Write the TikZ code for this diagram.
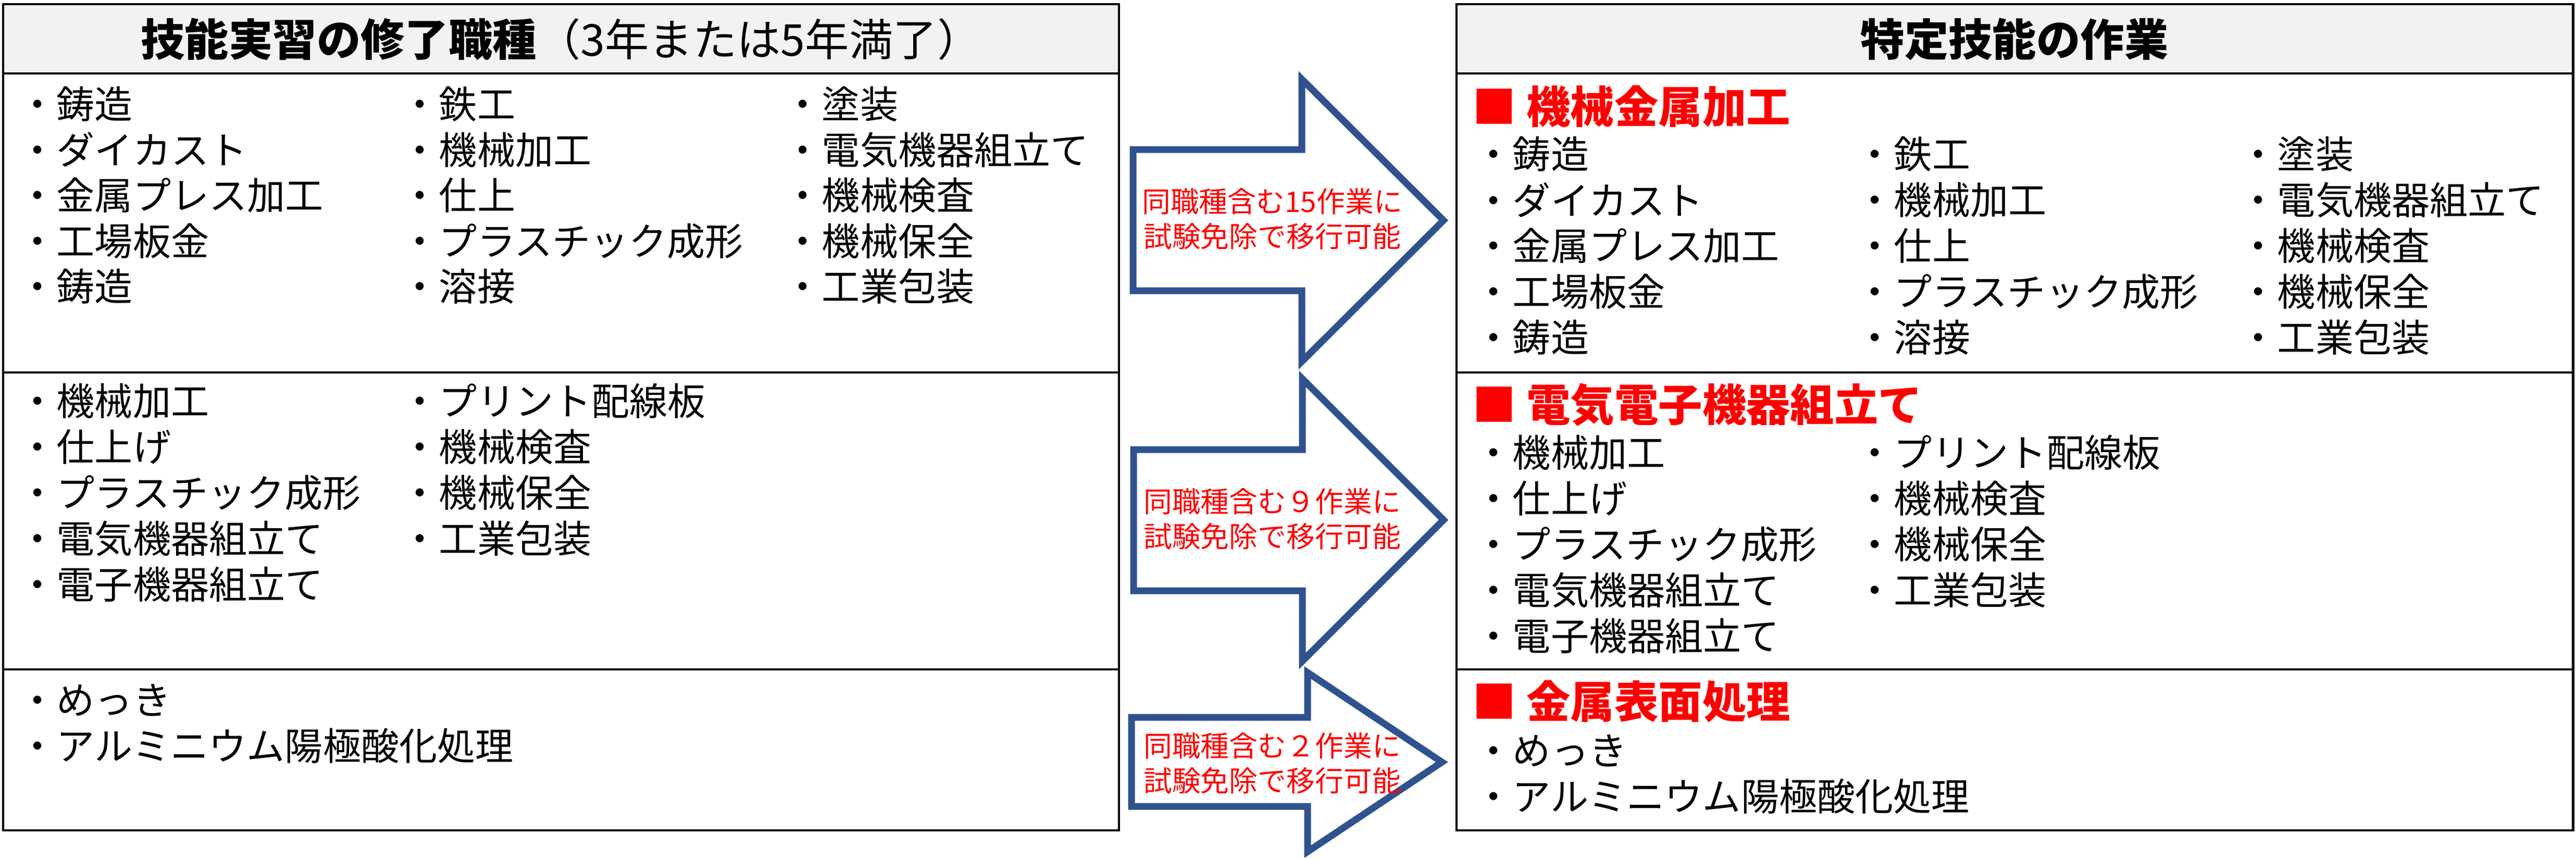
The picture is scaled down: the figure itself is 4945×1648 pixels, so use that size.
\documentclass[tikz,border=0pt]{standalone}
\usepackage{fontspec}
\setmainfont{Noto Sans CJK JP}
\definecolor{headgray}{HTML}{F2F2F2}
\definecolor{arrowblue}{HTML}{2F528F}

\begin{document}
\begin{tikzpicture}[x=0.01cm,y=-0.01cm]
		% Define styles for tables, lists and block arrows
		\tikzset{
			tabline/.style={line width=1.4pt},
			headtext/.style={inner sep=0, font=\fontsize{24}{28}\selectfont},
			item/.style={anchor=west, inner sep=0, font=\fontsize{20.8}{25}\selectfont},
			sectitle/.style={anchor=west, inner sep=0, text=red, font=\fontsize{24}{28}\selectfont\bfseries},
			bigarrow/.style={draw=arrowblue, fill=white, line width=3.7pt, line join=miter},
			arrowtext/.style={text=red, align=center, inner sep=0, font=\fontsize{15.6}{18.9}\selectfont}
		}
		\useasboundingbox (0,0) rectangle (4945,1648);
		
		% Draw the two tables
		\fill[headgray] (6,8) rectangle (2148,141);
		\fill[headgray] (2796,8) rectangle (4939,141);
		\draw[tabline] (6,8) rectangle (2148,1594);
		\draw[tabline] (2796,8) rectangle (4939,1594);
		\foreach \y in {141,715,1285} {
			\draw[tabline] (6,\y) -- (2148,\y);
			\draw[tabline] (2796,\y) -- (4939,\y);
		}
		
		% Table headers
		\node[headtext] (lhead) at (1077,75) {\textbf{技能実習の修了職種}（3年または5年満了）};
		\node[headtext] (rhead) at (3867,75) {\textbf{特定技能の作業}};
		
		% Left table: finished job types
		\foreach \t [count=\i from 0] in {鋳造,ダイカスト,金属プレス加工,工場板金,鋳造}
			\node[item] (la\i) at (35,200+87.5*\i) {・\t};
		\foreach \t [count=\i from 0] in {鉄工,機械加工,仕上,プラスチック成形,溶接}
			\node[item] (lb\i) at (769,200+87.5*\i) {・\t};
		\foreach \t [count=\i from 0] in {塗装,電気機器組立て,機械検査,機械保全,工業包装}
			\node[item] (lc\i) at (1504,200+87.5*\i) {・\t};
		\foreach \t [count=\i from 0] in {機械加工,仕上げ,プラスチック成形,電気機器組立て,電子機器組立て}
			\node[item] (ld\i) at (35,770+88*\i) {・\t};
		\foreach \t [count=\i from 0] in {プリント配線板,機械検査,機械保全,工業包装}
			\node[item] (le\i) at (769,770+88*\i) {・\t};
		\foreach \t [count=\i from 0] in {めっき,アルミニウム陽極酸化処理}
			\node[item] (lf\i) at (35,1344+88*\i) {・\t};
		
		% Right table: specified skill work
		\node[sectitle] (rsec1) at (2826,204) {■ 機械金属加工};
		\foreach \t [count=\i from 0] in {鋳造,ダイカスト,金属プレス加工,工場板金,鋳造}
			\node[item] (ra\i) at (2830,296+88*\i) {・\t};
		\foreach \t [count=\i from 0] in {鉄工,機械加工,仕上,プラスチック成形,溶接}
			\node[item] (rb\i) at (3562,296+88*\i) {・\t};
		\foreach \t [count=\i from 0] in {塗装,電気機器組立て,機械検査,機械保全,工業包装}
			\node[item] (rc\i) at (4298,296+88*\i) {・\t};
		\node[sectitle] (rsec2) at (2826,777) {■ 電気電子機器組立て};
		\foreach \t [count=\i from 0] in {機械加工,仕上げ,プラスチック成形,電気機器組立て,電子機器組立て}
			\node[item] (rd\i) at (2830,869+88*\i) {・\t};
		\foreach \t [count=\i from 0] in {プリント配線板,機械検査,機械保全,工業包装}
			\node[item] (re\i) at (3562,869+88*\i) {・\t};
		\node[sectitle] (rsec3) at (2826,1347) {■ 金属表面処理};
		\foreach \t [count=\i from 0] in {めっき,アルミニウム陽極酸化処理}
			\node[item] (rf\i) at (2830,1441+88*\i) {・\t};
		
		% Draw the block arrows
		\draw[bigarrow] (2175,287) -- (2499,287) -- (2499,152) -- (2771,423) -- (2499,694) -- (2499,558) -- (2175,558) -- cycle;
		\draw[bigarrow] (2176,863) -- (2500,863) -- (2500,727) -- (2771,998) -- (2500,1269) -- (2500,1134) -- (2176,1134) -- cycle;
		\draw[bigarrow] (2172,1377) -- (2510,1377) -- (2510,1291) -- (2768,1463) -- (2510,1635) -- (2510,1548) -- (2172,1548) -- cycle;
		
		% Add arrow labels
		\node[arrowtext] (ar1) at (2442,420) {同職種含む15作業に\\試験免除で移行可能};
		\node[arrowtext] (ar2) at (2442,996) {同職種含む９作業に\\試験免除で移行可能};
		\node[arrowtext] (ar3) at (2442,1465) {同職種含む２作業に\\試験免除で移行可能};
	\end{tikzpicture}
\end{document}
